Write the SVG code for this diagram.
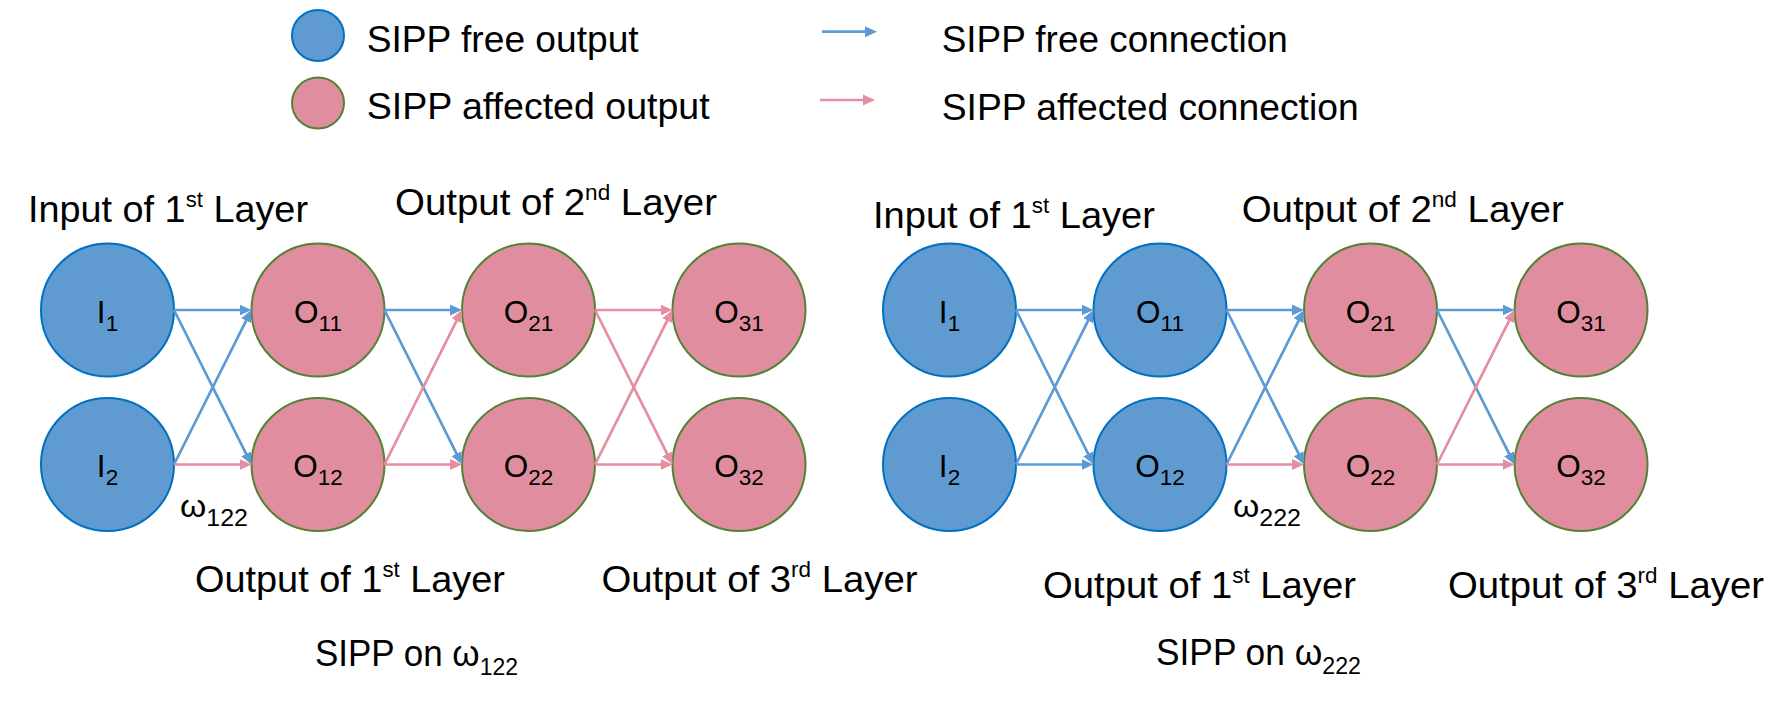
<svg xmlns="http://www.w3.org/2000/svg" width="1791" height="702" viewBox="0 0 1791 702">
<style>
.t{font-family:"Liberation Sans",Arial,sans-serif;fill:#000}
.lg{font-size:36.5px}
.lb{font-size:37.5px}
.nl{font-size:31.5px;text-anchor:middle}
.sub{font-size:22.5px}
.sup{font-size:22px}
.free{fill:#5F9BD1;stroke:#0070C0;stroke-width:2}
.aff{fill:#E08E9F;stroke:#548235;stroke-width:2}
.cb{stroke:#5B9BD5;stroke-width:2.7;fill:none;marker-end:url(#ab)}
.cp{stroke:#E48E9F;stroke-width:2.7;fill:none;marker-end:url(#ap)}
</style>
<defs>
<marker id="ab" markerUnits="userSpaceOnUse" markerWidth="13" markerHeight="12" refX="6" refY="6" orient="auto"><path d="M0,0.5 L12,6 L0,11.5 z" fill="#5B9BD5"/></marker>
<marker id="ap" markerUnits="userSpaceOnUse" markerWidth="13" markerHeight="12" refX="6" refY="6" orient="auto"><path d="M0,0.5 L12,6 L0,11.5 z" fill="#E48E9F"/></marker>
</defs>
<rect width="1791" height="702" fill="#fff"/>

<g id="legend">
<ellipse class="free" cx="318" cy="35.5" rx="26" ry="25.5"/>
<ellipse class="aff" cx="318" cy="103" rx="26" ry="25.5"/>
<text class="t lg" x="366.7" y="52.3" textLength="272" lengthAdjust="spacingAndGlyphs">SIPP free output</text>
<text class="t lg" x="366.7" y="119.3" textLength="343" lengthAdjust="spacingAndGlyphs">SIPP affected output</text>
<line class="cb" x1="822" y1="31.7" x2="871" y2="31.7"/>
<line class="cp" x1="820" y1="100" x2="869" y2="100"/>
<text class="t lg" x="941.7" y="52.3" textLength="346" lengthAdjust="spacingAndGlyphs">SIPP free connection</text>
<text class="t lg" x="941.7" y="119.8" textLength="417" lengthAdjust="spacingAndGlyphs">SIPP affected connection</text>
</g>

<g id="labels-left">
<text class="t lb" x="28" y="222" textLength="280" lengthAdjust="spacingAndGlyphs">Input of 1<tspan class="sup" dy="-15">st</tspan><tspan dy="15"> Layer</tspan></text>
<text class="t lb" x="395" y="215" textLength="322" lengthAdjust="spacingAndGlyphs">Output of 2<tspan class="sup" dy="-15">nd</tspan><tspan dy="15"> Layer</tspan></text>
<text class="t lb" x="195" y="592" textLength="310" lengthAdjust="spacingAndGlyphs">Output of 1<tspan class="sup" dy="-15">st</tspan><tspan dy="15"> Layer</tspan></text>
<text class="t lb" x="601.5" y="592" textLength="316" lengthAdjust="spacingAndGlyphs">Output of 3<tspan class="sup" dy="-15">rd</tspan><tspan dy="15"> Layer</tspan></text>
<text class="t" font-size="31" x="180" y="517" textLength="68" lengthAdjust="spacingAndGlyphs">ω<tspan font-size="23" dy="9">122</tspan></text>
<text class="t lg" x="315" y="666" textLength="203" lengthAdjust="spacingAndGlyphs">SIPP on ω<tspan font-size="24" dy="9">122</tspan></text>
</g>

<g id="labels-right">
<text class="t lb" x="873" y="228" textLength="282" lengthAdjust="spacingAndGlyphs">Input of 1<tspan class="sup" dy="-15">st</tspan><tspan dy="15"> Layer</tspan></text>
<text class="t lb" x="1241.7" y="222" textLength="322" lengthAdjust="spacingAndGlyphs">Output of 2<tspan class="sup" dy="-15">nd</tspan><tspan dy="15"> Layer</tspan></text>
<text class="t lb" x="1043" y="598" textLength="313" lengthAdjust="spacingAndGlyphs">Output of 1<tspan class="sup" dy="-15">st</tspan><tspan dy="15"> Layer</tspan></text>
<text class="t lb" x="1448" y="598" textLength="316" lengthAdjust="spacingAndGlyphs">Output of 3<tspan class="sup" dy="-15">rd</tspan><tspan dy="15"> Layer</tspan></text>
<text class="t" font-size="31" x="1233" y="517" textLength="68" lengthAdjust="spacingAndGlyphs">ω<tspan font-size="23" dy="9">222</tspan></text>
<text class="t lg" x="1156" y="665" textLength="205" lengthAdjust="spacingAndGlyphs">SIPP on ω<tspan font-size="24" dy="9">222</tspan></text>
</g>

<g id="L-I1"><circle class="free" cx="107.5" cy="310" r="66.5"/><text class="t nl" x="107.5" y="322.7">I<tspan class="sub" dy="8">1</tspan></text></g>
<g id="L-I2"><circle class="free" cx="107.5" cy="464.5" r="66.5"/><text class="t nl" x="107.5" y="477.2">I<tspan class="sub" dy="8">2</tspan></text></g>
<g id="L-O11"><circle class="aff" cx="318" cy="310" r="66.5"/><text class="t nl" x="318" y="322.7">O<tspan class="sub" dy="8">11</tspan></text></g>
<g id="L-O12"><circle class="aff" cx="318" cy="464.5" r="66.5"/><text class="t nl" x="318" y="477.2">O<tspan class="sub" dy="8">12</tspan></text></g>
<g id="L-O21"><circle class="aff" cx="528.5" cy="310" r="66.5"/><text class="t nl" x="528.5" y="322.7">O<tspan class="sub" dy="8">21</tspan></text></g>
<g id="L-O22"><circle class="aff" cx="528.5" cy="464.5" r="66.5"/><text class="t nl" x="528.5" y="477.2">O<tspan class="sub" dy="8">22</tspan></text></g>
<g id="L-O31"><circle class="aff" cx="739" cy="310" r="66.5"/><text class="t nl" x="739" y="322.7">O<tspan class="sub" dy="8">31</tspan></text></g>
<g id="L-O32"><circle class="aff" cx="739" cy="464.5" r="66.5"/><text class="t nl" x="739" y="477.2">O<tspan class="sub" dy="8">32</tspan></text></g>

<g id="R-I1"><circle class="free" cx="949.5" cy="310" r="66.5"/><text class="t nl" x="949.5" y="322.7">I<tspan class="sub" dy="8">1</tspan></text></g>
<g id="R-I2"><circle class="free" cx="949.5" cy="464.5" r="66.5"/><text class="t nl" x="949.5" y="477.2">I<tspan class="sub" dy="8">2</tspan></text></g>
<g id="R-O11"><circle class="free" cx="1160" cy="310" r="66.5"/><text class="t nl" x="1160" y="322.7">O<tspan class="sub" dy="8">11</tspan></text></g>
<g id="R-O12"><circle class="free" cx="1160" cy="464.5" r="66.5"/><text class="t nl" x="1160" y="477.2">O<tspan class="sub" dy="8">12</tspan></text></g>
<g id="R-O21"><circle class="aff" cx="1370.5" cy="310" r="66.5"/><text class="t nl" x="1370.5" y="322.7">O<tspan class="sub" dy="8">21</tspan></text></g>
<g id="R-O22"><circle class="aff" cx="1370.5" cy="464.5" r="66.5"/><text class="t nl" x="1370.5" y="477.2">O<tspan class="sub" dy="8">22</tspan></text></g>
<g id="R-O31"><circle class="aff" cx="1581" cy="310" r="66.5"/><text class="t nl" x="1581" y="322.7">O<tspan class="sub" dy="8">31</tspan></text></g>
<g id="R-O32"><circle class="aff" cx="1581" cy="464.5" r="66.5"/><text class="t nl" x="1581" y="477.2">O<tspan class="sub" dy="8">32</tspan></text></g>

<g id="connectors">
<line class="cb" x1="174" y1="310" x2="245.5" y2="310"/>
<line class="cb" x1="174" y1="310" x2="248.8" y2="459.1"/>
<line class="cb" x1="174" y1="464.5" x2="248.8" y2="315.4"/>
<line class="cp" x1="174" y1="464.5" x2="245.5" y2="464.5"/>
<line class="cb" x1="384.5" y1="310" x2="456" y2="310"/>
<line class="cb" x1="384.5" y1="310" x2="459.3" y2="459.1"/>
<line class="cp" x1="384.5" y1="464.5" x2="459.3" y2="315.4"/>
<line class="cp" x1="384.5" y1="464.5" x2="456" y2="464.5"/>
<line class="cp" x1="595" y1="310" x2="666.5" y2="310"/>
<line class="cp" x1="595" y1="310" x2="669.8" y2="459.1"/>
<line class="cp" x1="595" y1="464.5" x2="669.8" y2="315.4"/>
<line class="cp" x1="595" y1="464.5" x2="666.5" y2="464.5"/>

<line class="cb" x1="1016" y1="310" x2="1087.5" y2="310"/>
<line class="cb" x1="1016" y1="310" x2="1090.8" y2="459.1"/>
<line class="cb" x1="1016" y1="464.5" x2="1090.8" y2="315.4"/>
<line class="cb" x1="1016" y1="464.5" x2="1087.5" y2="464.5"/>
<line class="cb" x1="1226.5" y1="310" x2="1298" y2="310"/>
<line class="cb" x1="1226.5" y1="310" x2="1301.3" y2="459.1"/>
<line class="cb" x1="1226.5" y1="464.5" x2="1301.3" y2="315.4"/>
<line class="cp" x1="1226.5" y1="464.5" x2="1298" y2="464.5"/>
<line class="cb" x1="1437" y1="310" x2="1508.5" y2="310"/>
<line class="cb" x1="1437" y1="310" x2="1511.8" y2="459.1"/>
<line class="cp" x1="1437" y1="464.5" x2="1511.8" y2="315.4"/>
<line class="cp" x1="1437" y1="464.5" x2="1508.5" y2="464.5"/>
</g>
</svg>
